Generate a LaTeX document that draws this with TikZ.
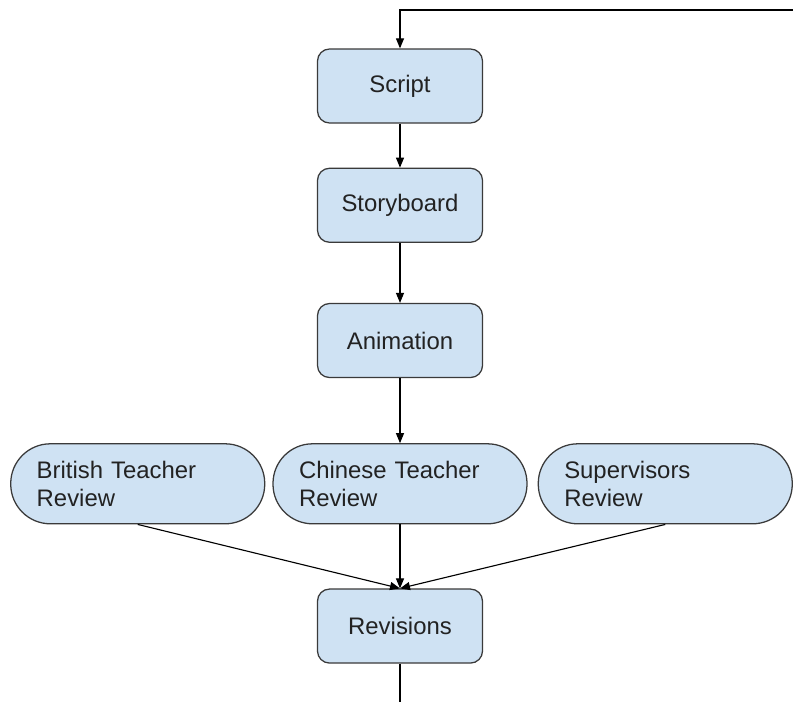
\documentclass[tikz,border=0pt]{standalone}
\usepackage{fontspec}
\setmainfont{Liberation Sans}
\usepackage{xcolor}
\usetikzlibrary{arrows.meta, positioning}
\definecolor{boxfill}{HTML}{CFE2F3}
\definecolor{boxline}{HTML}{3A3A3A}
\definecolor{inktext}{HTML}{222222}
\tikzstyle{stage} = [rectangle, rounded corners=0.3cm, minimum width=4.125cm, minimum height=1.85cm, text centered, draw=boxline, line width=0.9pt, fill=boxfill, text=inktext, font=\fontsize{17}{20}\selectfont]
\tikzstyle{review} = [rectangle, rounded corners=0.99cm, minimum width=6.35cm, minimum height=2cm, text width=5.05cm, inner xsep=0.65cm, align=left, draw=boxline, line width=0.9pt, fill=boxfill, text=inktext, font=\fontsize{17}{20}\selectfont]
\tikzstyle{arrow} = [line width=0.8pt, draw=black, -{Triangle[length=2.5mm, width=2mm]}]

\begin{document}
\begin{tikzpicture}
    \useasboundingbox (0,0) rectangle (19.825,-17.55);
    \node (script) [stage] at (10,-2.15) {Script};
    \node (story) [stage, below=1.1cm of script] {Storyboard};
    \node (anim) [stage, below=1.5cm of story] {Animation};
    \node (chinese) [review, below=1.625cm of anim] {Chinese Teacher\\Review};
    \node (british) [review, left=0.175cm of chinese] {British Teacher\\Review};
    \node (super) [review, right=0.25cm of chinese] {Supervisors\\Review};
    \node (revise) [stage, below=1.6cm of chinese] {Revisions};
    \coordinate (looptop) at (19.825,-0.25);
    \coordinate (loopbottom) at (10,-17.55);

    \draw [arrow] (looptop) -| (script.north);
    \draw [arrow] (script) -- (story);
    \draw [arrow] (story) -- (anim);
    \draw [arrow] (anim) -- (chinese);
    \draw [arrow] (british.south) -- (revise.north);
    \draw [arrow] (chinese) -- (revise);
    \draw [arrow] (super.south) -- (revise.north);
    \draw [line width=0.8pt] (revise) -- (loopbottom);
\end{tikzpicture}
\end{document}
